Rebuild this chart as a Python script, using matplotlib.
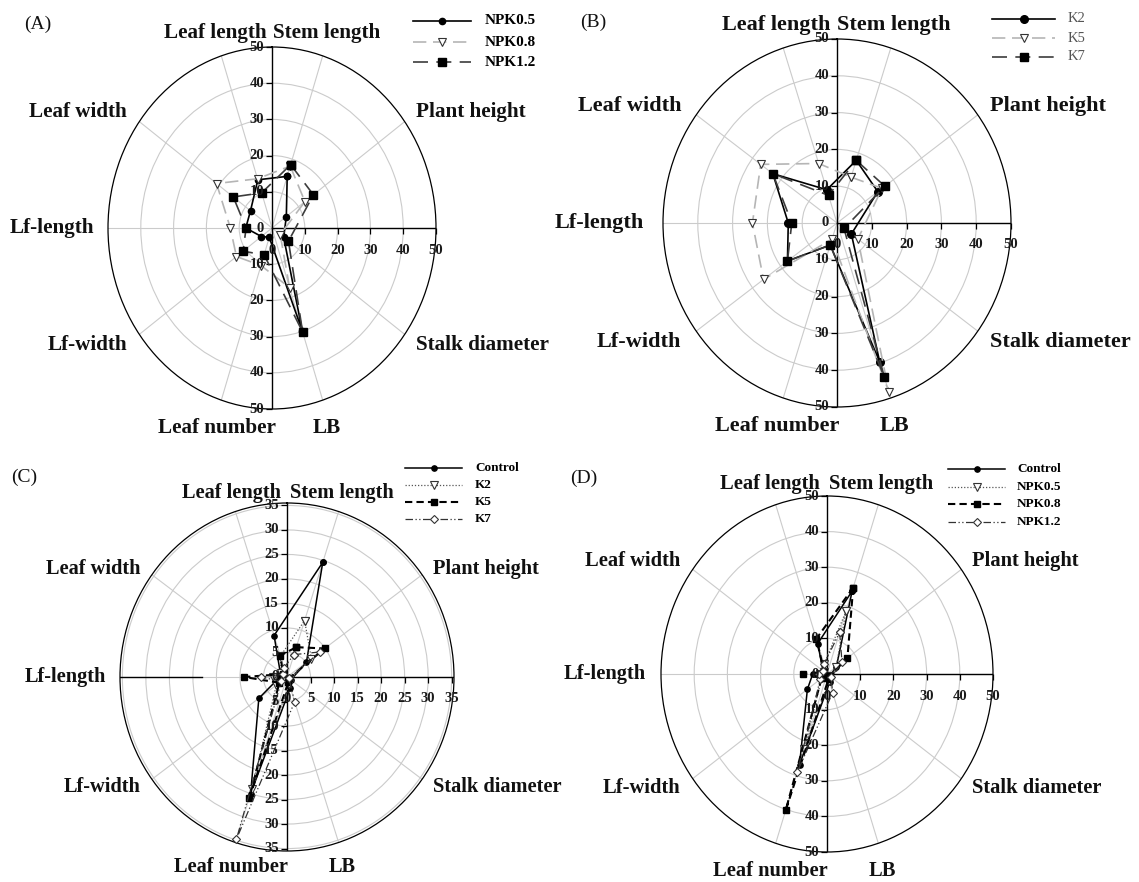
import numpy as np
import matplotlib
matplotlib.use("Agg")
import matplotlib.pyplot as plt
from matplotlib import transforms as mtrans
from matplotlib.lines import Line2D

# ---------------- data ----------------
categories = ["Stem length", "Plant height", "Stalk diameter", "LB", "Leaf number",
              "Lf-width", "Lf-length", "Leaf width", "Leaf length"]
cat_angles_deg = [18, 54, 126, 162, 198, 234, 270, 306, 342]
grid_angles_deg = [18, 54, 90, 126, 162, 198, 234, 270, 306, 342]

# Panel A
a_series = ["NPK0.5", "NPK0.8", "NPK1.2"]
a_npk05 = [15.0, 5.4, 4.4, 30.0, 2.7, 4.0, 8.0, 8.1, 14.0]
a_npk08 = [18.0, 12.4, 3.1, 17.3, 10.9, 13.4, 12.7, 20.9, 14.3]
a_npk12 = [18.4, 15.6, 6.2, 30.2, 7.8, 10.9, 7.9, 14.6, 10.2]

# Panel B
b_series = ["K2", "K5", "K7"]
b_k2 = [17.9, 14.5, 5.1, 39.8, 6.3, 17.6, 14.0, 22.8, 9.5]
b_k5 = [13.1, 16.0, 7.4, 48.3, 4.6, 26.1, 24.3, 27.1, 17.0]
b_k7 = [17.9, 17.0, 2.5, 44.0, 6.3, 17.6, 13.0, 22.8, 7.9]

# Panel C
c_series = ["Control", "K2", "K5", "K7"]
c_control = [24.6, 5.1, 1.0, 2.3, 25.0, 7.4, 1.5, 1.8, 8.9]
c_k2 = [12.1, 6.4, 0.8, 1.5, 24.0, 2.8, 3.0, 1.5, 4.5]
c_k5 = [6.4, 9.9, 0.5, 1.0, 26.0, 2.0, 9.1, 1.0, 4.6]
c_k7 = [4.8, 8.7, 0.5, 5.3, 34.8, 1.5, 5.6, 1.0, 2.0]

# Panel D
d_series = ["Control", "NPK0.5", "NPK0.8", "NPK1.2"]
d_control = [24.5, 3.5, 1.0, 2.5, 26.8, 7.3, 4.3, 1.5, 9.0]
d_npk05 = [18.5, 3.4, 1.0, 2.0, 22.1, 2.0, 2.0, 1.0, 2.9]
d_npk08 = [25.5, 7.6, 1.0, 1.5, 40.3, 2.0, 7.1, 1.0, 10.4]
d_npk12 = [12.3, 5.6, 1.5, 5.5, 28.9, 2.5, 2.5, 1.5, 2.9]

ticks_50 = [0, 10, 20, 30, 40, 50]
ticks_35 = [0, 5, 10, 15, 20, 25, 30, 35]

# ---------------- styles ----------------
W, H = 1139, 882
SERIF = "Liberation Serif"
GRID = "#cbcbcb"

style_a = [
    dict(color="k", ls="-", lw=1.2, marker="o", ms=4.5, mfc="k", mec="k"),
    dict(color="#b5b5b5", ls=(0, (8, 4)), lw=1.2, marker="v", ms=6, mfc="white", mec="#333333", mew=0.8),
    dict(color="#3c3c3c", ls=(0, (9, 5)), lw=1.2, marker="s", ms=5.5, mfc="k", mec="k"),
]
style_b = [
    dict(color="k", ls="-", lw=1.2, marker="o", ms=5.5, mfc="k", mec="k"),
    dict(color="#b5b5b5", ls=(0, (8, 4)), lw=1.2, marker="v", ms=6, mfc="white", mec="#333333", mew=0.8),
    dict(color="#3c3c3c", ls=(0, (9, 5)), lw=1.2, marker="s", ms=5.5, mfc="k", mec="k"),
]
style_cd = [
    dict(color="k", ls="-", lw=1.1, marker="o", ms=3.8, mfc="k", mec="k"),
    dict(color="#555555", ls=(0, (1, 1.5)), lw=0.9, marker="v", ms=5.5, mfc="white", mec="#333333", mew=0.8),
    dict(color="k", ls=(0, (3.5, 2)), lw=1.5, marker="s", ms=4.5, mfc="k", mec="k"),
    dict(color="#333333", ls=(0, (6, 2, 1, 2, 1, 2)), lw=0.9, marker="D", ms=4.5, mfc="white", mec="#333333", mew=0.8),
]

# label offsets (px from panel centre; +y is downward)
lab_A = [(1, -195), (144, -116), (144, 117), (55, 200), (4, 200), (-145, 117), (-178, 0), (-145, -116), (-5, -195)]
lab_B = [(0, -198), (153, -117), (153, 119), (57, 203), (2, 203), (-156, 119), (-193, 0), (-156, -117), (-7, -198)]
lab_C = [(2.5, -184), (146, -108), (146, 110), (55, 190), (1, 190), (-146, 110), (-181, 0), (-146, -108), (-6.5, -184)]
lab_D = [(2, -190), (145, -113), (145, 114), (55, 197), (1, 197), (-147, 114), (-181, 0), (-147, -113), (-7, -190)]
lab_ha = ["left", "left", "left", "center", "right", "right", "right", "right", "right"]

panels = [
    dict(tag="(A)", tagpos=(24, 24), c=(272, 228), r=(164, 181), ticks=ticks_50, rlim=50,
         series=a_series, data=[a_npk05, a_npk08, a_npk12], styles=style_a,
         labs=lab_A, labfs=15.2,
         leg=dict(x0=413, x1=471, tx=485, ys=[21, 42, 62], fs=11, weight="bold", color="k")),
    dict(tag="(B)", tagpos=(580, 22), c=(837, 223), r=(174, 184), ticks=ticks_50, rlim=50,
         series=b_series, data=[b_k2, b_k5, b_k7], styles=style_b,
         labs=lab_B, labfs=16,
         leg=dict(x0=992, x1=1055, tx=1068, ys=[19, 38, 57], fs=10.5, weight="normal", color="#555555")),
    dict(tag="(C)", tagpos=(11, 477), c=(287, 677), r=(167, 174), ticks=ticks_35, rlim=35.5,
         series=c_series, data=[c_control, c_k2, c_k5, c_k7], styles=style_cd,
         labs=lab_C, labfs=14.7, black_left=18,
         leg=dict(x0=405, x1=462, tx=475, ys=[468, 485, 502, 519], fs=9.5, weight="bold", color="k")),
    dict(tag="(D)", tagpos=(570, 478), c=(827, 674), r=(166, 178), ticks=ticks_50, rlim=50,
         series=d_series, data=[d_control, d_npk05, d_npk08, d_npk12], styles=style_cd,
         labs=lab_D, labfs=14.8,
         leg=dict(x0=948, x1=1005, tx=1017, ys=[469, 487, 504, 522], fs=9.5, weight="bold", color="k")),
]

fig = plt.figure(figsize=(W / 100, H / 100), dpi=100)
fig.patch.set_facecolor("white")

theta_cat = np.deg2rad(cat_angles_deg)

for p in panels:
    cx, cy = p["c"]
    rx, ry = p["r"]
    ticks = p["ticks"]
    rlim = p["rlim"]
    ax = fig.add_axes([(cx - rx) / W, 1 - (cy + ry) / H, 2 * rx / W, 2 * ry / H], projection="polar")
    ax.set_aspect("auto")
    ax.set_theta_zero_location("N")
    ax.set_theta_direction(-1)
    ax.set_ylim(0, rlim)
    ax.set_thetagrids(grid_angles_deg, labels=[])
    rg = [t for t in ticks[1:] if t < rlim]
    ax.set_rgrids(rg, labels=[])
    ax.grid(True, color=GRID, lw=0.8)
    ax.tick_params(axis="y", length=0)
    if p["tag"] == "(C)":
        ax.tick_params(axis="x", length=4, direction="out", color="k", width=0.8)
    else:
        ax.tick_params(axis="x", length=0)
    ax.spines["polar"].set_color("k")
    ax.spines["polar"].set_linewidth(0.9)

    # axis lines
    for th in (0, np.pi, np.pi / 2):
        ax.plot([th, th], [0, rlim], color="k", lw=1.0, zorder=2)
    if "black_left" in p:
        ax.plot([1.5 * np.pi] * 2, [p["black_left"], rlim], color="k", lw=1.0, zorder=2)
    # tick marks
    tv = np.array(ticks[1:])
    ax.plot(np.zeros(len(tv)), tv, ls="none", marker=0, ms=4, mew=0.9, color="k", zorder=2, clip_on=False)
    ax.plot(np.full(len(tv), np.pi), tv, ls="none", marker=0, ms=4, mew=0.9, color="k", zorder=2, clip_on=False)
    ax.plot(np.full(len(tv), np.pi / 2), tv, ls="none", marker=3, ms=4, mew=0.9, color="k", zorder=2, clip_on=False)

    # tick labels
    tl = mtrans.offset_copy(ax.transData, fig=fig, x=-8, y=0, units="dots")
    tb = mtrans.offset_copy(ax.transData, fig=fig, x=0, y=-22, units="dots")
    tkw = dict(fontsize=10.5, fontweight="bold", family=SERIF, color="#1a1a1a", zorder=6)
    for v in ticks:
        ax.text(0, v, str(v), transform=tl, ha="right", va="center", **tkw)
        ax.text(np.pi / 2, v, str(v), transform=tb, ha="center", va="center", **tkw)
    for v in ticks[1:]:
        ax.text(np.pi, v, str(v), transform=tl, ha="right", va="center", **tkw)

    # data
    th_closed = np.append(theta_cat, theta_cat[0])
    for name, vals, st in zip(p["series"], p["data"], p["styles"]):
        vv = np.append(vals, vals[0])
        ax.plot(th_closed, vv, zorder=4, clip_on=False, **st)

    # category labels
    for lab, (dx, dy), ha in zip(categories, p["labs"], lab_ha):
        ax.annotate(lab, xy=(0.5, 0.5), xycoords="axes fraction", xytext=(dx, -dy),
                    textcoords="offset pixels", ha=ha, va="center",
                    fontsize=p["labfs"], fontweight="bold", family=SERIF, color="#111111",
                    annotation_clip=False)

    # panel tag
    fig.text(p["tagpos"][0] / W, 1 - p["tagpos"][1] / H, p["tag"], ha="left", va="center",
             fontsize=14, family=SERIF, color="#111111")

    # legend
    lg = p["leg"]
    for name, st, y in zip(p["series"], p["styles"], lg["ys"]):
        yf = 1 - y / H
        lkw = {k: v for k, v in st.items() if k not in ("marker", "ms", "mfc", "mec", "mew")}
        fig.add_artist(Line2D([lg["x0"] / W, lg["x1"] / W], [yf, yf], transform=fig.transFigure, **lkw))
        mkw = {k: v for k, v in st.items() if k in ("marker", "ms", "mfc", "mec", "mew")}
        fig.add_artist(Line2D([(lg["x0"] + lg["x1"]) / 2 / W], [yf], transform=fig.transFigure,
                              ls="none", color=st["color"], **mkw))
        fig.text(lg["tx"] / W, yf, name, ha="left", va="center", fontsize=lg["fs"],
                 fontweight=lg["weight"], family=SERIF, color=lg["color"])

fig.savefig("out.png", dpi=100, facecolor="white")
